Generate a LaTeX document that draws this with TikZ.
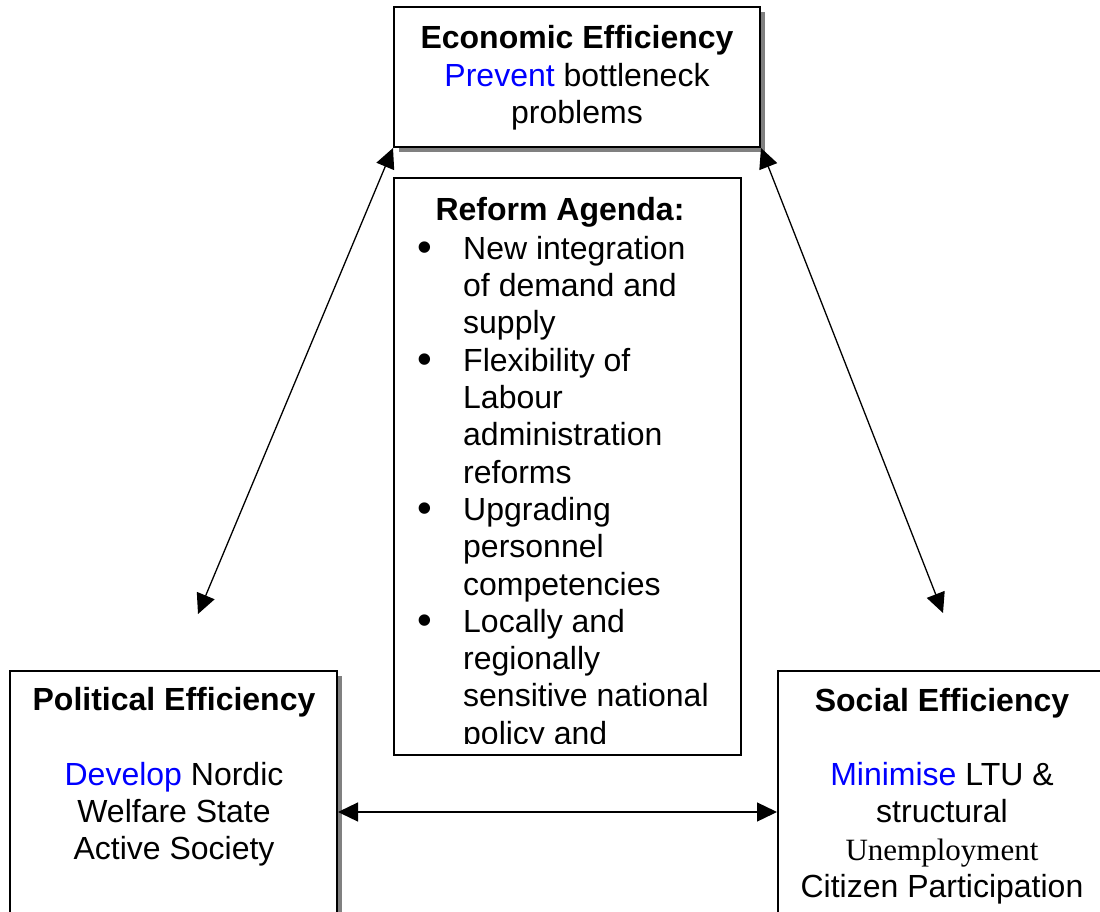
\documentclass[tikz,border=0pt]{standalone}
\usepackage{fontspec}
\setmainfont{Liberation Sans}
\newfontfamily\timesfont{Liberation Serif}
\usetikzlibrary{arrows.meta}
\usetikzlibrary{shadows}

\newcommand{\bul}{\makebox[46pt][l]{\fontsize{42}{37.3}\selectfont\raisebox{-2pt}{\textbullet}}}
\newcommand{\ind}{\hspace*{46pt}}

\begin{document}
\begin{tikzpicture}[x=1pt,y=-1pt,
  box/.style={draw, rectangle, line width=2pt, inner sep=0pt, fill=white},
  shadowed/.style={general shadow={fill=gray, shadow xshift=5pt, shadow yshift=-5pt}},
  txt/.style={align=center, inner sep=0pt, font=\fontsize{32}{37.3}\selectfont},
  link/.style={line width=1.3pt, {Triangle[length=20pt,width=19pt]}-{Triangle[length=20pt,width=19pt]}}]

\clip (0,0) rectangle (1100,912);

\node[box, shadowed, minimum width=366pt, minimum height=140pt] (Econ) at (577,77) {};
\node[txt] (EconText) at (577,78) {\textbf{Economic Efficiency}\\ \textcolor{blue}{Prevent} bottleneck\\ problems};

\node[box, line width=1.5pt, minimum width=347pt, minimum height=577pt] (Reform) at (567.5,466.5) {};
\node[txt] (ReformTitle) at (560,212) {\textbf{Reform Agenda:}};
\begin{scope}
\clip (Reform.north west) rectangle ([yshift=12pt]Reform.south east);
\node[txt, align=left, anchor=north west] (ReformList) at (417,236) {\bul New integration\\ \ind of demand and\\ \ind supply\\
  \bul Flexibility of\\ \ind Labour\\ \ind administration\\ \ind reforms\\
  \bul Upgrading\\ \ind personnel\\ \ind competencies\\
  \bul Locally and\\ \ind regionally\\ \ind sensitive national\\ \ind policy and};
\end{scope}

\node[box, shadowed, minimum width=327pt, minimum height=282pt] (Pol) at (173.5,812) {};
\node[txt] (PolText) at (174,777) {\textbf{Political Efficiency}\\[37.3pt] \textcolor{blue}{Develop} Nordic\\ Welfare State\\ Active Society};

\node[box, minimum width=328pt, minimum height=282pt] (Soc) at (942,812) {};
\node[txt] (SocText) at (942,796) {\textbf{Social Efficiency}\\[37.3pt] \textcolor{blue}{Minimise} LTU \&\\ structural\\ {\timesfont\fontsize{31}{37.3}\selectfont Unemployment}\\ Citizen Participation};

\coordinate (PolTip) at (198,614);
\coordinate (SocTip) at (943,613);

\draw[link] (Econ.south west) -- (PolTip);
\draw[link] (Econ.south east) -- (SocTip);
\draw[link] (Pol.east) -- (Soc.west);

\end{tikzpicture}
\end{document}
